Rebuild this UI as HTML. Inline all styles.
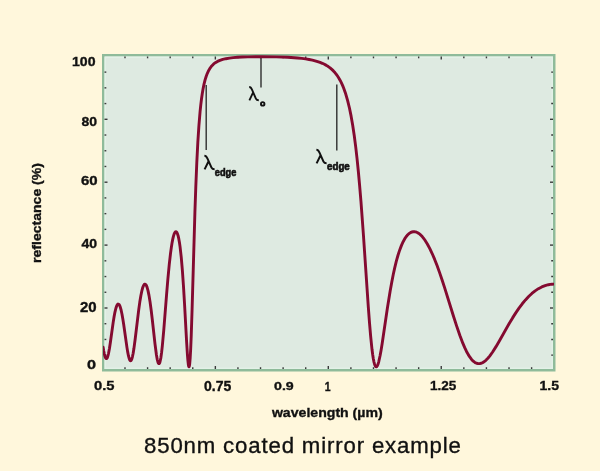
<!DOCTYPE html>
<html><head><meta charset="utf-8">
<style>
html,body{margin:0;padding:0;}
body{width:600px;height:471px;overflow:hidden;background:#fff7dc;position:relative;}
svg{position:absolute;left:0;top:0;will-change:transform;}
</style></head><body>
<svg width="600" height="471" viewBox="0 0 600 471" font-family="Liberation Sans">
<rect x="103.25" y="55.25" width="451.0" height="315.0" fill="#deeae1" stroke="#8fbb9a" stroke-width="2.5"/>
<rect x="105.25" y="57.25" width="447.0" height="311.0" fill="none" stroke="#e3f1e7" stroke-width="1.5"/>
<g stroke="#3a3a3a" stroke-width="1.4">
<line x1="104.5" y1="355.17" x2="106.30" y2="355.17"/>
<line x1="551.20" y1="355.17" x2="553" y2="355.17"/>
<line x1="104.5" y1="339.45" x2="106.30" y2="339.45"/>
<line x1="551.20" y1="339.45" x2="553" y2="339.45"/>
<line x1="104.5" y1="323.72" x2="106.30" y2="323.72"/>
<line x1="551.20" y1="323.72" x2="553" y2="323.72"/>
<line x1="104.5" y1="308.00" x2="107.50" y2="308.00"/>
<line x1="550.00" y1="308.00" x2="553" y2="308.00"/>
<line x1="104.5" y1="292.27" x2="106.30" y2="292.27"/>
<line x1="551.20" y1="292.27" x2="553" y2="292.27"/>
<line x1="104.5" y1="276.55" x2="106.30" y2="276.55"/>
<line x1="551.20" y1="276.55" x2="553" y2="276.55"/>
<line x1="104.5" y1="260.82" x2="106.30" y2="260.82"/>
<line x1="551.20" y1="260.82" x2="553" y2="260.82"/>
<line x1="104.5" y1="245.10" x2="107.50" y2="245.10"/>
<line x1="550.00" y1="245.10" x2="553" y2="245.10"/>
<line x1="104.5" y1="229.37" x2="106.30" y2="229.37"/>
<line x1="551.20" y1="229.37" x2="553" y2="229.37"/>
<line x1="104.5" y1="213.65" x2="106.30" y2="213.65"/>
<line x1="551.20" y1="213.65" x2="553" y2="213.65"/>
<line x1="104.5" y1="197.92" x2="106.30" y2="197.92"/>
<line x1="551.20" y1="197.92" x2="553" y2="197.92"/>
<line x1="104.5" y1="182.20" x2="107.50" y2="182.20"/>
<line x1="550.00" y1="182.20" x2="553" y2="182.20"/>
<line x1="104.5" y1="166.47" x2="106.30" y2="166.47"/>
<line x1="551.20" y1="166.47" x2="553" y2="166.47"/>
<line x1="104.5" y1="150.75" x2="106.30" y2="150.75"/>
<line x1="551.20" y1="150.75" x2="553" y2="150.75"/>
<line x1="104.5" y1="135.02" x2="106.30" y2="135.02"/>
<line x1="551.20" y1="135.02" x2="553" y2="135.02"/>
<line x1="104.5" y1="119.30" x2="107.50" y2="119.30"/>
<line x1="550.00" y1="119.30" x2="553" y2="119.30"/>
<line x1="104.5" y1="103.57" x2="106.30" y2="103.57"/>
<line x1="551.20" y1="103.57" x2="553" y2="103.57"/>
<line x1="104.5" y1="87.85" x2="106.30" y2="87.85"/>
<line x1="551.20" y1="87.85" x2="553" y2="87.85"/>
<line x1="104.5" y1="72.12" x2="106.30" y2="72.12"/>
<line x1="551.20" y1="72.12" x2="553" y2="72.12"/>
<line x1="124.99" y1="56.5" x2="124.99" y2="58.30"/>
<line x1="124.99" y1="367.20" x2="124.99" y2="369"/>
<line x1="147.58" y1="56.5" x2="147.58" y2="58.30"/>
<line x1="147.58" y1="367.20" x2="147.58" y2="369"/>
<line x1="170.17" y1="56.5" x2="170.17" y2="58.30"/>
<line x1="170.17" y1="367.20" x2="170.17" y2="369"/>
<line x1="192.76" y1="56.5" x2="192.76" y2="58.30"/>
<line x1="192.76" y1="367.20" x2="192.76" y2="369"/>
<line x1="215.35" y1="56.5" x2="215.35" y2="59.50"/>
<line x1="215.35" y1="366.00" x2="215.35" y2="369"/>
<line x1="237.94" y1="56.5" x2="237.94" y2="58.30"/>
<line x1="237.94" y1="367.20" x2="237.94" y2="369"/>
<line x1="260.53" y1="56.5" x2="260.53" y2="58.30"/>
<line x1="260.53" y1="367.20" x2="260.53" y2="369"/>
<line x1="283.12" y1="56.5" x2="283.12" y2="58.30"/>
<line x1="283.12" y1="367.20" x2="283.12" y2="369"/>
<line x1="305.71" y1="56.5" x2="305.71" y2="58.30"/>
<line x1="305.71" y1="367.20" x2="305.71" y2="369"/>
<line x1="328.30" y1="56.5" x2="328.30" y2="59.50"/>
<line x1="328.30" y1="366.00" x2="328.30" y2="369"/>
<line x1="350.89" y1="56.5" x2="350.89" y2="58.30"/>
<line x1="350.89" y1="367.20" x2="350.89" y2="369"/>
<line x1="373.48" y1="56.5" x2="373.48" y2="58.30"/>
<line x1="373.48" y1="367.20" x2="373.48" y2="369"/>
<line x1="396.07" y1="56.5" x2="396.07" y2="58.30"/>
<line x1="396.07" y1="367.20" x2="396.07" y2="369"/>
<line x1="418.66" y1="56.5" x2="418.66" y2="58.30"/>
<line x1="418.66" y1="367.20" x2="418.66" y2="369"/>
<line x1="441.25" y1="56.5" x2="441.25" y2="59.50"/>
<line x1="441.25" y1="366.00" x2="441.25" y2="369"/>
<line x1="463.84" y1="56.5" x2="463.84" y2="58.30"/>
<line x1="463.84" y1="367.20" x2="463.84" y2="369"/>
<line x1="486.43" y1="56.5" x2="486.43" y2="58.30"/>
<line x1="486.43" y1="367.20" x2="486.43" y2="369"/>
<line x1="509.02" y1="56.5" x2="509.02" y2="58.30"/>
<line x1="509.02" y1="367.20" x2="509.02" y2="369"/>
<line x1="531.61" y1="56.5" x2="531.61" y2="58.30"/>
<line x1="531.61" y1="367.20" x2="531.61" y2="369"/>
</g>
<g stroke="#2e2e2e" stroke-width="1.4">
<line x1="261" y1="58" x2="261" y2="87.5"/>
<line x1="206.2" y1="85" x2="206.2" y2="150"/>
<line x1="336.8" y1="84.5" x2="336.8" y2="150.5"/>
</g>
<clipPath id="pc"><rect x="103" y="40" width="451" height="340"/></clipPath>
<path clip-path="url(#pc)" d="M103.08 347.19 L103.76 351.10 L104.36 354.03 L104.96 356.32 L105.49 357.71 L106.02 358.48 L106.32 358.63 L106.55 358.59 L106.77 358.44 L107.07 358.05 L107.60 356.87 L108.05 355.38 L108.51 353.47 L109.49 348.17 L110.47 341.70 L113.18 322.36 L114.08 316.74 L114.91 312.33 L115.82 308.51 L116.72 305.83 L117.18 304.93 L117.63 304.35 L118.08 304.07 L118.53 304.11 L118.91 304.37 L119.36 304.97 L119.81 305.87 L120.27 307.07 L121.10 310.01 L122.00 314.23 L122.83 318.91 L123.66 324.23 L126.98 347.59 L127.73 352.15 L128.48 355.93 L129.16 358.49 L129.84 360.12 L130.22 360.60 L130.52 360.74 L130.82 360.67 L131.20 360.29 L131.80 358.99 L132.48 356.58 L133.16 353.23 L133.91 348.58 L135.19 338.98 L138.74 309.63 L139.79 302.09 L140.85 295.68 L141.98 290.28 L142.51 288.31 L143.03 286.72 L143.56 285.50 L144.09 284.66 L144.62 284.21 L145.15 284.15 L145.60 284.40 L146.05 284.95 L146.50 285.78 L147.03 287.11 L148.01 290.59 L148.99 295.37 L150.05 301.87 L151.18 310.24 L152.31 319.76 L155.02 344.14 L156.45 355.04 L157.21 359.33 L157.96 362.26 L158.34 363.14 L158.72 363.60 L158.94 363.67 L159.09 363.63 L159.39 363.32 L159.70 362.72 L160.07 361.57 L160.83 357.94 L161.58 352.64 L162.33 345.89 L163.77 330.05 L166.63 293.88 L167.91 278.66 L169.27 264.43 L170.55 253.15 L171.31 247.59 L171.98 243.28 L172.66 239.64 L173.34 236.68 L174.02 234.40 L174.70 232.80 L175.08 232.21 L175.38 231.90 L175.75 231.71 L176.06 231.72 L176.43 231.94 L176.73 232.27 L177.41 233.59 L178.09 235.69 L178.77 238.64 L179.45 242.46 L180.05 246.64 L181.26 257.38 L182.39 270.53 L183.52 286.78 L184.57 304.50 L186.61 341.71 L187.44 354.84 L187.89 360.46 L188.34 364.50 L188.57 365.82 L188.80 366.61 L189.02 366.83 L189.17 366.64 L189.47 365.43 L189.70 363.76 L190.15 358.46 L190.68 348.98 L191.21 336.28 L192.11 308.68 L194.90 212.53 L195.81 186.48 L196.79 162.78 L197.84 142.16 L198.90 125.85 L200.10 111.44 L200.78 104.90 L201.46 99.29 L202.29 93.47 L203.12 88.60 L204.02 84.16 L205.08 79.92 L206.14 76.46 L207.34 73.26 L208.70 70.40 L210.13 68.02 L211.71 65.96 L213.45 64.20 L215.33 62.73 L217.52 61.43 L219.93 60.36 L222.72 59.45 L225.89 58.71 L229.51 58.10 L233.20 57.67 L237.50 57.32 L242.32 57.05 L247.90 56.86 L261.62 56.70 L276.25 56.88 L287.78 57.31 L297.51 57.99 L301.73 58.43 L305.58 58.93 L309.12 59.51 L312.36 60.16 L315.07 60.82 L317.64 61.56 L320.05 62.39 L322.31 63.31 L324.42 64.31 L326.38 65.39 L328.27 66.58 L330.08 67.91 L331.81 69.38 L333.39 70.91 L334.90 72.57 L336.33 74.36 L337.69 76.27 L339.05 78.42 L340.33 80.70 L341.54 83.11 L342.67 85.63 L343.72 88.23 L345.76 94.04 L347.64 100.54 L349.45 108.01 L351.11 116.13 L352.69 125.22 L354.20 135.28 L355.71 146.89 L357.07 158.82 L358.35 171.48 L359.63 185.53 L360.99 201.96 L363.40 234.69 L368.30 306.83 L369.51 322.85 L370.64 336.14 L371.99 349.29 L372.67 354.55 L373.28 358.45 L373.88 361.59 L374.56 364.23 L375.16 365.80 L375.46 366.31 L375.84 366.70 L376.29 366.83 L376.52 366.75 L376.82 366.52 L377.27 365.88 L377.80 364.74 L378.33 363.20 L378.85 361.30 L380.06 355.81 L381.04 350.42 L382.17 343.46 L387.37 308.32 L390.16 290.98 L391.75 282.17 L393.25 274.53 L394.76 267.65 L396.34 261.20 L398.00 255.26 L399.74 249.91 L401.47 245.36 L403.28 241.41 L405.17 238.09 L406.07 236.77 L407.05 235.53 L408.03 234.47 L409.01 233.60 L409.99 232.90 L410.97 232.36 L412.03 231.96 L413.16 231.74 L414.29 231.71 L415.42 231.88 L416.55 232.23 L417.68 232.76 L418.81 233.46 L420.02 234.40 L421.22 235.53 L422.43 236.84 L423.64 238.33 L424.84 239.99 L427.33 243.94 L429.82 248.58 L432.15 253.52 L434.57 259.17 L437.06 265.55 L439.69 272.87 L442.11 279.97 L444.67 287.87 L453.26 315.53 L456.51 325.67 L459.90 335.56 L462.91 343.44 L464.72 347.66 L466.53 351.45 L468.27 354.63 L469.93 357.24 L471.58 359.41 L473.24 361.14 L474.90 362.41 L475.73 362.88 L476.63 363.27 L478.14 363.62 L479.65 363.63 L481.23 363.27 L482.82 362.57 L484.48 361.48 L486.13 360.07 L487.87 358.28 L489.68 356.10 L492.62 352.01 L496.01 346.65 L499.33 340.98 L509.35 323.30 L512.60 317.88 L515.61 313.12 L519.00 308.15 L522.25 303.80 L525.49 299.89 L528.65 296.49 L531.90 293.45 L535.14 290.86 L538.45 288.66 L541.77 286.92 L545.09 285.60 L546.75 285.11 L548.48 284.70 L550.22 284.40 L551.95 284.21 L553.68 284.13 L555.42 284.15" fill="none" stroke="#840a30" stroke-width="2.9" stroke-linejoin="round" stroke-linecap="round"/>
<g fill="#111" stroke="#111" stroke-width="0.35">
<text x="72.00" y="66.00" font-size="13.00" font-weight="bold" textLength="23.49" lengthAdjust="spacingAndGlyphs">100</text>
<text x="81.50" y="126.00" font-size="13.53" font-weight="bold" textLength="15.58" lengthAdjust="spacingAndGlyphs">80</text>
<text x="81.00" y="185.00" font-size="13.53" font-weight="bold" textLength="16.67" lengthAdjust="spacingAndGlyphs">60</text>
<text x="81.50" y="247.50" font-size="13.53" font-weight="bold" textLength="15.63" lengthAdjust="spacingAndGlyphs">40</text>
<text x="80.00" y="311.50" font-size="14.00" font-weight="bold" textLength="16.67" lengthAdjust="spacingAndGlyphs">20</text>
<text x="87.00" y="368.50" font-size="13.53" font-weight="bold" textLength="9.05" lengthAdjust="spacingAndGlyphs">0</text>
<text x="94.00" y="389.50" font-size="13.53" font-weight="bold" textLength="20.53" lengthAdjust="spacingAndGlyphs">0.5</text>
<text x="204.00" y="390.50" font-size="14.00" font-weight="bold" textLength="27.25" lengthAdjust="spacingAndGlyphs">0.75</text>
<text x="274.00" y="390.30" font-size="11.64" font-weight="bold" textLength="19.72" lengthAdjust="spacingAndGlyphs">0.9</text>
<text x="324.70" y="390.70" font-size="13.24" font-weight="bold" textLength="5.87" lengthAdjust="spacingAndGlyphs">1</text>
<text x="430.00" y="389.50" font-size="13.53" font-weight="bold" textLength="26.28" lengthAdjust="spacingAndGlyphs">1.25</text>
<text x="539.50" y="389.50" font-size="13.53" font-weight="bold" textLength="19.57" lengthAdjust="spacingAndGlyphs">1.5</text>
<text x="271.90" y="417.00" font-size="13.35" font-weight="bold" textLength="110.80" lengthAdjust="spacingAndGlyphs">wavelength (µm)</text>
<text x="144.00" y="453.00" font-size="22.20" font-weight="normal" textLength="316.90" lengthAdjust="spacing">850nm coated mirror example</text>
<text x="214.80" y="175.80" font-size="10.20" font-weight="bold" textLength="21.54" lengthAdjust="spacingAndGlyphs" stroke-width="0.6">edge</text>
<text x="327.00" y="170.00" font-size="10.20" font-weight="bold" textLength="22.79" lengthAdjust="spacingAndGlyphs" stroke-width="0.6">edge</text>
<text transform="translate(40.80,262.90) rotate(-90)" font-size="13.00" font-weight="bold" textLength="99.81" lengthAdjust="spacingAndGlyphs">reflectance (%)</text>
</g>
<g fill="none" stroke="#111" stroke-width="2.0">
<g transform="translate(204.4,155.4)"><path d="M0 0.3 C1.3 0.3 2.3 1.4 3.1 3.2 L7.1 12.2 C7.6 13.3 8.5 13.9 10.2 13.9 M4.3 5.6 L0.2 14"/></g>
<g transform="translate(316.4,149.4)"><path d="M0 0.3 C1.3 0.3 2.3 1.4 3.1 3.2 L7.1 12.2 C7.6 13.3 8.5 13.9 10.2 13.9 M4.3 5.6 L0.2 14"/></g>
<g transform="translate(249.2,86.7) scale(0.94,0.98)"><path d="M0 0.3 C1.3 0.3 2.3 1.4 3.1 3.2 L7.1 12.2 C7.6 13.3 8.5 13.9 10.2 13.9 M4.3 5.6 L0.2 14"/></g>
<circle cx="262.7" cy="103.9" r="1.75" stroke-width="1.9"/>
</g>
</svg>
</body></html>
